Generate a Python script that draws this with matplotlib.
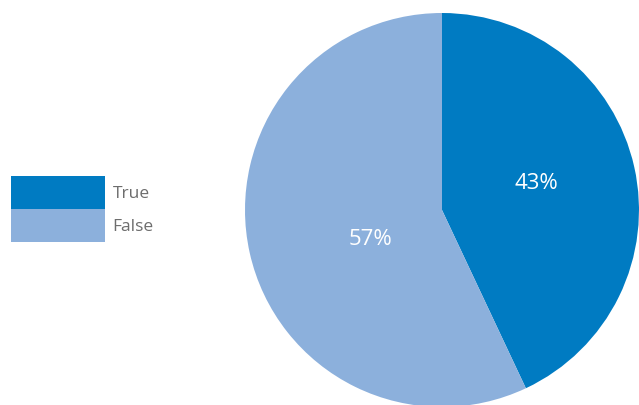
import numpy as np
import matplotlib
matplotlib.use('Agg')
from matplotlib import pyplot as plt

labels = ['True', 'False']
values = [43, 57]
colors = ['#007BC2', '#8CB0DC']

plt.rcParams['font.family'] = ['Open Sans', 'DejaVu Sans']

fig = plt.figure(figsize=(6.39, 4.05), dpi=100)
ax = fig.add_axes([245/639, -2/405, 394/639, 394/405])

wedges, texts, autotexts = ax.pie(values, colors=colors, startangle=90, counterclock=False,
                                  autopct='%d%%', pctdistance=0.45,
                                  textprops={'color': 'white', 'fontsize': 16})

# nudge the percent labels to where the original has them
for w, t, d, dy in zip(wedges, autotexts, [0.49, 0.37], [0.03, -0.07]):
    ang = np.deg2rad((w.theta1 + w.theta2) / 2)
    t.set_position((d * np.cos(ang), d * np.sin(ang) + dy))

ax.set_xlim(-1, 1)
ax.set_ylim(-1, 1)
ax.set_aspect('equal')

leg = fig.legend(wedges, labels, loc='upper left', bbox_to_anchor=(11/639, 1 - 176/405),
                 frameon=False, fontsize=12.5, handlelength=5.4, handleheight=2.55,
                 labelspacing=0, handletextpad=0.45, borderpad=0, borderaxespad=0)
for t in leg.get_texts():
    t.set_color('#6d6d6d')

fig.savefig('out.png', dpi=100)
